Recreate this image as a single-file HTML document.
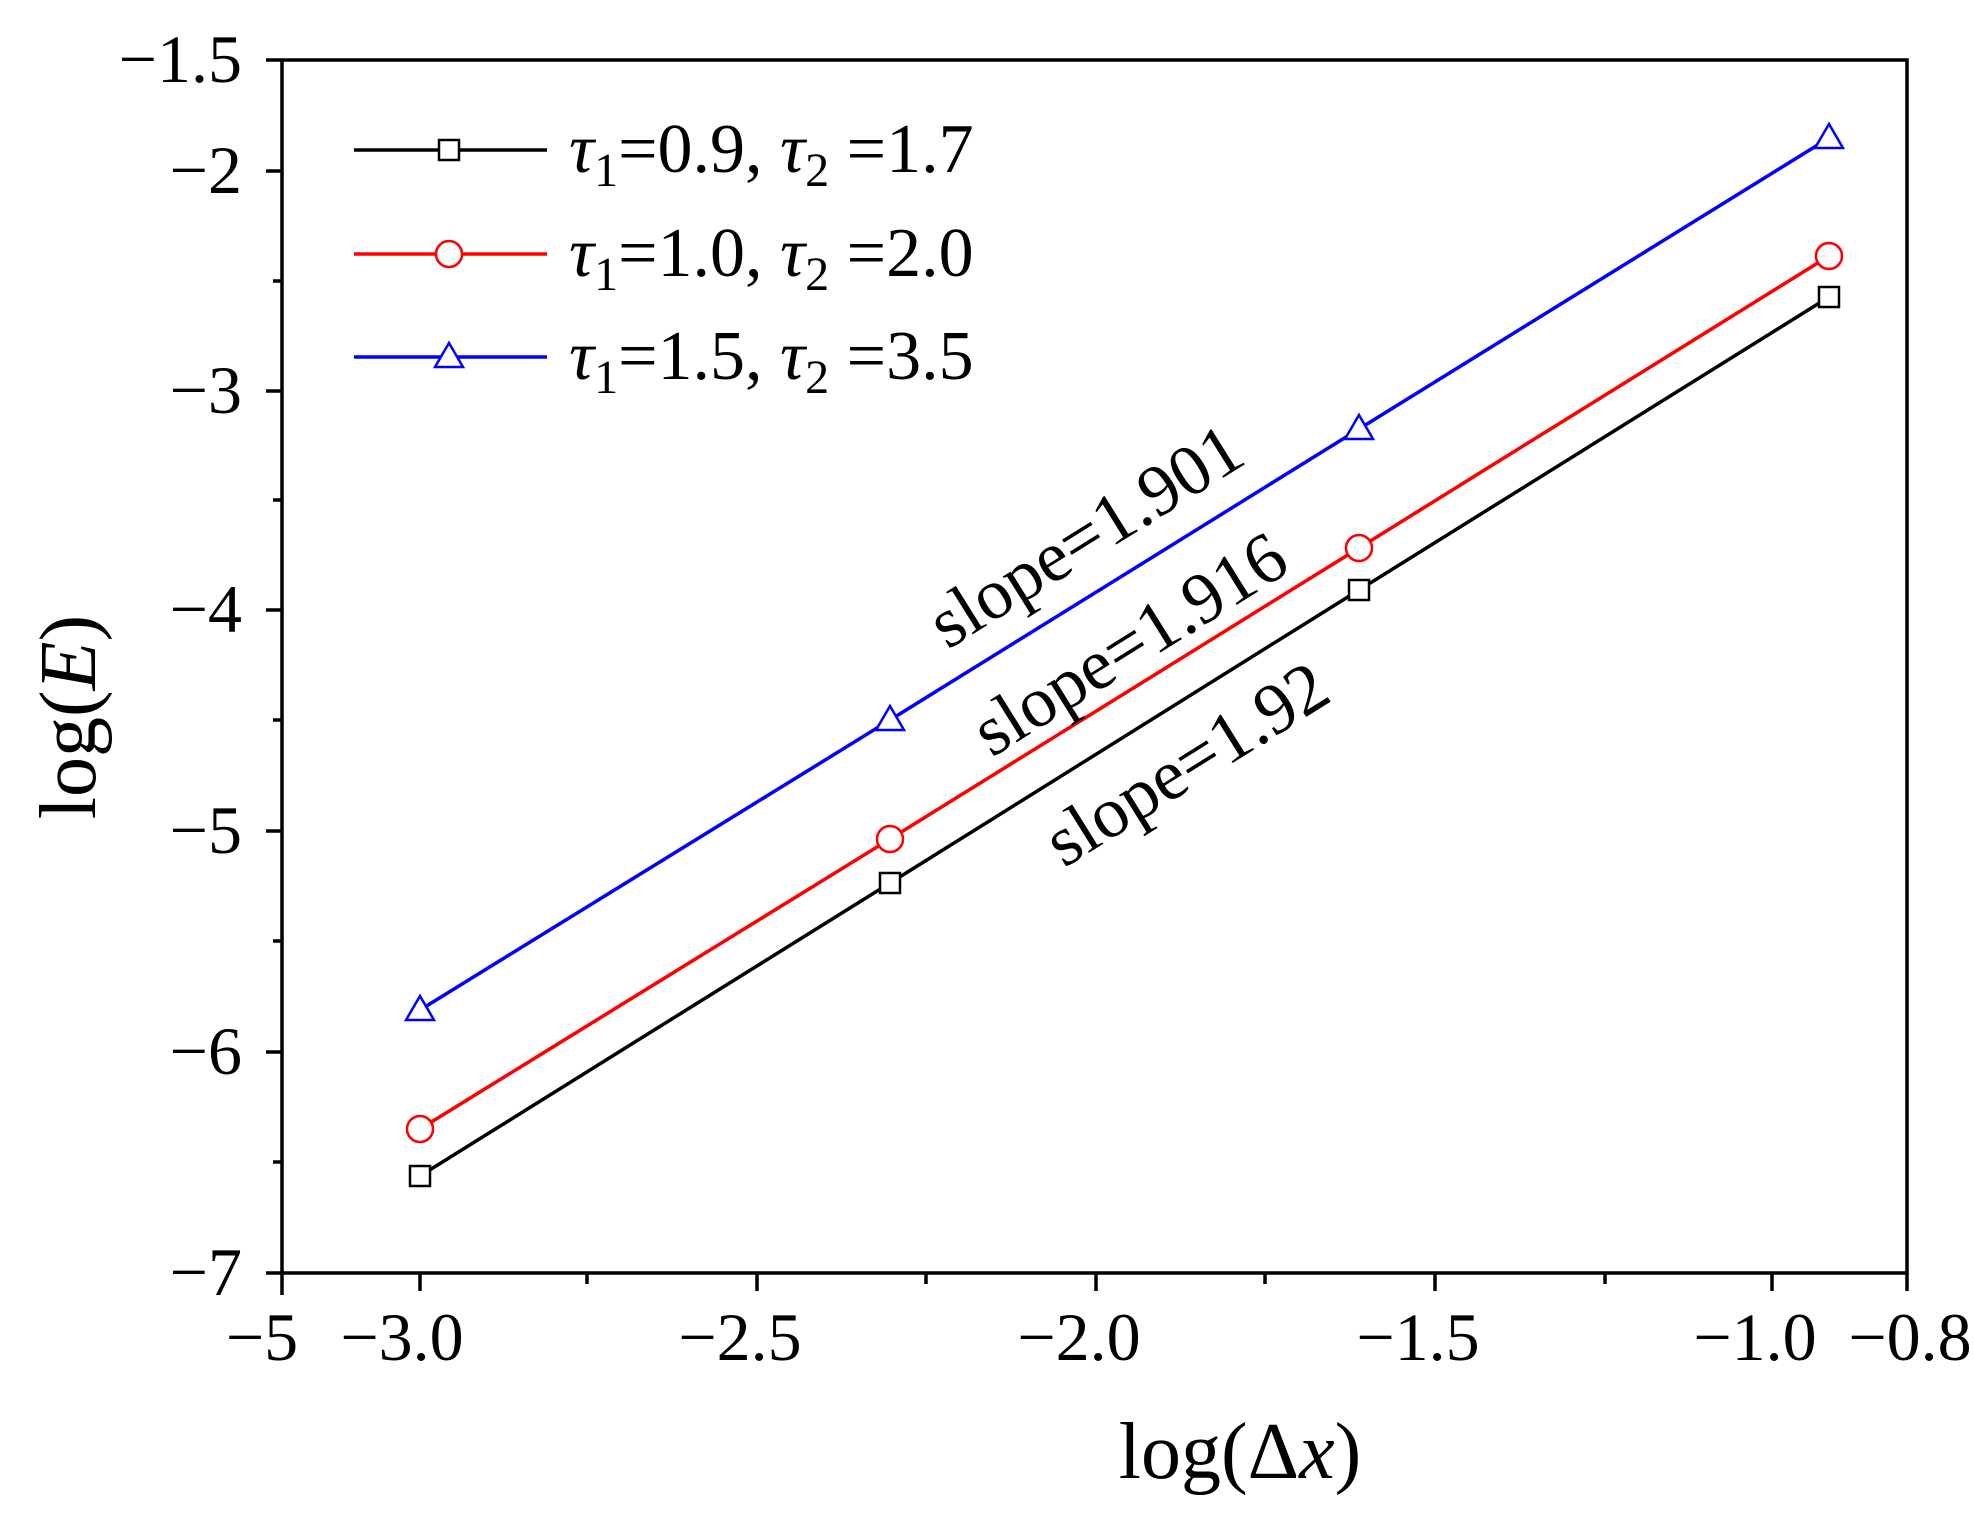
<!DOCTYPE html>
<html><head><meta charset="utf-8"><style>body{margin:0;background:#fff}svg{display:block}</style></head><body>
<svg width="1974" height="1515" xmlns="http://www.w3.org/2000/svg" font-family="Liberation Serif, serif">
<rect width="1974" height="1515" fill="#fff"/>
<rect x="282" y="60" width="1625" height="1213" fill="none" stroke="#000" stroke-width="3.5"/>
<g stroke="#000" stroke-width="3.5">
<line x1="282" y1="60" x2="266" y2="60"/><line x1="282" y1="171" x2="266" y2="171"/><line x1="282" y1="391" x2="266" y2="391"/><line x1="282" y1="610" x2="266" y2="610"/><line x1="282" y1="831" x2="266" y2="831"/><line x1="282" y1="1052" x2="266" y2="1052"/><line x1="282" y1="1273" x2="266" y2="1273"/>
<line x1="282" y1="281" x2="273" y2="281"/><line x1="282" y1="500" x2="273" y2="500"/><line x1="282" y1="720" x2="273" y2="720"/><line x1="282" y1="941" x2="273" y2="941"/><line x1="282" y1="1162" x2="273" y2="1162"/>
<line x1="282" y1="1273" x2="282" y2="1295"/><line x1="420" y1="1273" x2="420" y2="1291"/><line x1="757" y1="1273" x2="757" y2="1291"/><line x1="1096" y1="1273" x2="1096" y2="1291"/><line x1="1435" y1="1273" x2="1435" y2="1291"/><line x1="1772" y1="1273" x2="1772" y2="1291"/><line x1="1907" y1="1273" x2="1907" y2="1291"/>
<line x1="587" y1="1273" x2="587" y2="1284"/><line x1="926" y1="1273" x2="926" y2="1284"/><line x1="1265" y1="1273" x2="1265" y2="1284"/><line x1="1605" y1="1273" x2="1605" y2="1284"/>
</g>
<g font-size="68" text-anchor="end">
<text x="242" y="82">−1.5</text><text x="242" y="193">−2</text><text x="242" y="413">−3</text><text x="242" y="632">−4</text><text x="242" y="853">−5</text><text x="242" y="1074">−6</text><text x="242" y="1295">−7</text>
</g>
<g font-size="68" text-anchor="middle">
<text x="262" y="1360">−5</text><text x="402" y="1360">−3.0</text><text x="740" y="1360">−2.5</text><text x="1079" y="1360">−2.0</text><text x="1418" y="1360">−1.5</text><text x="1755" y="1360">−1.0</text><text x="1910" y="1360">−0.8</text>
</g>
<text x="1240" y="1478" font-size="80" text-anchor="middle">log(Δ<tspan font-style="italic">x</tspan>)</text>
<text transform="translate(95,717) rotate(-90)" font-size="80" text-anchor="middle">log(<tspan font-style="italic">E</tspan>)</text>
<polyline points="420,1176 890,883 1359,590 1829,297" fill="none" stroke="#000" stroke-width="3.5"/>
<polyline points="420,1129 890,839 1359,548 1829,256" fill="none" stroke="#f00" stroke-width="3.5"/>
<polyline points="420,1010 890,720 1359,429 1829,138" fill="none" stroke="#00f" stroke-width="3.5"/>
<g fill="#fff" stroke="#000" stroke-width="2.5">
<rect x="410" y="1166" width="20" height="20"/><rect x="880" y="873" width="20" height="20"/><rect x="1349" y="580" width="20" height="20"/><rect x="1819" y="287" width="20" height="20"/>
</g>
<g fill="#fff" stroke="#f00" stroke-width="2.5">
<circle cx="420" cy="1129" r="13"/><circle cx="890" cy="839" r="13"/><circle cx="1359" cy="548" r="13"/><circle cx="1829" cy="256" r="13"/>
</g>
<g fill="#fff" stroke="#00f" stroke-width="2.5">
<polygon points="420,996 434,1020 406,1020"/><polygon points="890,706 904,730 876,730"/><polygon points="1359,415 1373,439 1345,439"/><polygon points="1829,124 1843,148 1815,148"/>
</g>
<line x1="354" y1="150" x2="547" y2="150" stroke="#000" stroke-width="3.5"/><rect x="439" y="140" width="20" height="20" fill="#fff" stroke="#000" stroke-width="2.5"/>
<line x1="354" y1="254" x2="547" y2="254" stroke="#f00" stroke-width="3.5"/><circle cx="449" cy="254" r="13" fill="#fff" stroke="#f00" stroke-width="2.5"/>
<line x1="354" y1="357" x2="547" y2="357" stroke="#00f" stroke-width="3.5"/><polygon points="449,343 463,367 435,367" fill="#fff" stroke="#00f" stroke-width="2.5"/>
<g font-size="70">
<text x="569" y="172"><tspan font-style="italic">τ</tspan><tspan font-size="48" dy="14">1</tspan><tspan dy="-14">=0.9, </tspan><tspan font-style="italic">τ</tspan><tspan font-size="48" dy="14">2</tspan><tspan dy="-14"> =1.7</tspan></text>
<text x="569" y="276"><tspan font-style="italic">τ</tspan><tspan font-size="48" dy="14">1</tspan><tspan dy="-14">=1.0, </tspan><tspan font-style="italic">τ</tspan><tspan font-size="48" dy="14">2</tspan><tspan dy="-14"> =2.0</tspan></text>
<text x="569" y="379"><tspan font-style="italic">τ</tspan><tspan font-size="48" dy="14">1</tspan><tspan dy="-14">=1.5, </tspan><tspan font-style="italic">τ</tspan><tspan font-size="48" dy="14">2</tspan><tspan dy="-14"> =3.5</tspan></text>
</g>
<g font-size="72" text-anchor="middle">
<text transform="translate(1098,556) rotate(-32)">slope=1.901</text>
<text transform="translate(1142,664) rotate(-32)">slope=1.916</text>
<text transform="translate(1199,784) rotate(-32)">slope=1.92</text>
</g>
</svg>
</body></html>
